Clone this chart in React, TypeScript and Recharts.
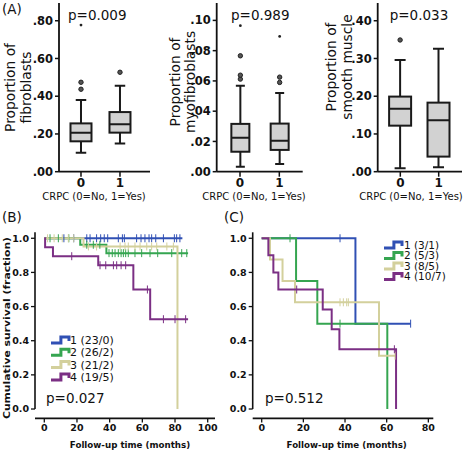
import React from 'react';
import { ComposedChart, Bar, Line, XAxis, YAxis, ReferenceLine } from 'recharts';

const FONT = '"DejaVu Sans", Verdana, sans-serif';
const INK = '#111';

// ---------------- Panel A: box plots ----------------
const CRPC = [0, 1];
const CRPC_LABEL = 'CRPC (0=No, 1=Yes)';

const FIB_LOW = [0.10, 0.15];
const FIB_Q1 = [0.161, 0.207];
const FIB_MED = [0.207, 0.251];
const FIB_Q3 = [0.256, 0.316];
const FIB_HIGH = [0.38, 0.456];
const FIB_OUT = [[0.437, 0.474], [0.527]];
const FIB_EXT = [[0.777], []];

const MYO_LOW = [0.0033, 0.0051];
const MYO_Q1 = [0.0132, 0.0144];
const MYO_MED = [0.0225, 0.0205];
const MYO_Q3 = [0.0316, 0.0318];
const MYO_HIGH = [0.0568, 0.052];
const MYO_OUT = [[0.0612, 0.0638, 0.0766], [0.059, 0.0625]];
const MYO_EXT = [[0.0965], [0.0894]];

const SMC_LOW = [0.009, 0.0115];
const SMC_Q1 = [0.122, 0.040];
const SMC_MED = [0.167, 0.136];
const SMC_Q3 = [0.199, 0.183];
const SMC_HIGH = [0.296, 0.326];
const SMC_OUT = [[0.349], []];
const SMC_EXT = [[], []];

const FIB_TICKS = [0, 0.2, 0.4, 0.6, 0.8];
const MYO_TICKS = [0, 0.02, 0.04, 0.06, 0.08, 0.1];
const SMC_TICKS = [0, 0.1, 0.2, 0.3, 0.4];

const A_PVALUES = ['p=0.009', 'p=0.989', 'p=0.033'];
const A_YLABELS = [
  ['Proportion of', 'fibroblasts'],
  ['Proportion of', 'myofibroblasts'],
  ['Proportion of', 'smooth muscle'],
];

function buildRows(low: number[], q1: number[], med: number[], q3: number[], high: number[], out: number[][], ext: number[][]) {
  return CRPC.map((x, i) => ({
    x,
    low: low[i],
    q1: q1[i],
    med: med[i],
    q3: q3[i],
    high: high[i],
    out: out[i],
    ext: ext[i],
    top: Math.max(high[i], ...out[i], ...ext[i]),
  }));
}

const A_DATA = [
  buildRows(FIB_LOW, FIB_Q1, FIB_MED, FIB_Q3, FIB_HIGH, FIB_OUT, FIB_EXT),
  buildRows(MYO_LOW, MYO_Q1, MYO_MED, MYO_Q3, MYO_HIGH, MYO_OUT, MYO_EXT),
  buildRows(SMC_LOW, SMC_Q1, SMC_MED, SMC_Q3, SMC_HIGH, SMC_OUT, SMC_EXT),
];
const A_TICKS = [FIB_TICKS, MYO_TICKS, SMC_TICKS];

const A_LAYOUT = [
  { left: 0, width: 155, yAxisW: 59, right: 5, xDom: [-0.564, 1.77], yMax: 0.894, barSize: 21, labelX: [14.5, 30.5], labelY: 87.5, pX: 68, crpcX: 94 },
  { left: 150, width: 157, yAxisW: 66.7, right: 4.3, xDom: [-0.593, 1.595], yMax: 0.1115, barSize: 18, labelX: [179.5, 195], labelY: 82, pX: 231, crpcX: 254 },
  { left: 307, width: 160, yAxisW: 70.7, right: 5, xDom: [-0.589, 1.607], yMax: 0.447, barSize: 22, labelX: [336, 351.5], labelY: 67, pX: 389.7, crpcX: 411 },
];

function BoxShape(props: any) {
  const { x, y, width, height, payload } = props;
  if (!payload || !height) return <g />;
  const k = height / payload.top;
  const py = (v: number) => y + (payload.top - v) * k;
  const cx = x + width / 2;
  const cap = width * 0.5;
  const sw = 2;
  const sc = '#1a1a1a';
  return (
    <g>
      <line x1={cx} x2={cx} y1={py(payload.high)} y2={py(payload.q3)} stroke={sc} strokeWidth={sw} />
      <line x1={cx} x2={cx} y1={py(payload.q1)} y2={py(payload.low)} stroke={sc} strokeWidth={sw} />
      <line x1={cx - cap / 2} x2={cx + cap / 2} y1={py(payload.high)} y2={py(payload.high)} stroke={sc} strokeWidth={sw} />
      <line x1={cx - cap / 2} x2={cx + cap / 2} y1={py(payload.low)} y2={py(payload.low)} stroke={sc} strokeWidth={sw} />
      <rect x={x} y={py(payload.q3)} width={width} height={py(payload.q1) - py(payload.q3)} fill="#d2d2d2" stroke={sc} strokeWidth={sw} />
      <line x1={x} x2={x + width} y1={py(payload.med)} y2={py(payload.med)} stroke={sc} strokeWidth={sw} />
      {payload.out.map((v: number, i: number) => (
        <circle key={`o${i}`} cx={cx} cy={py(v)} r={2.2} fill="#555" stroke="#222" strokeWidth={1} />
      ))}
      {payload.ext.map((v: number, i: number) => (
        <circle key={`e${i}`} cx={cx} cy={py(v)} r={1.4} fill="#222" />
      ))}
    </g>
  );
}

const fmtProp = (v: number) => v.toFixed(2).replace(/^0/, '');

// ---------------- Panels B & C: Kaplan-Meier ----------------
const B_GROUPS = ['1 (23/0)', '2 (26/2)', '3 (21/2)', '4 (19/5)'];
const C_GROUPS = ['1 (3/1)', '2 (5/3)', '3 (8/5)', '4 (10/7)'];
const GROUP_COLORS = ['#3050b4', '#35a550', '#d3d09c', '#7b2f84'];

const B1_TIME = [0, 84.5];
const B1_SURV = [1, 1];
const B1_CENS = [12, 18, 26, 28, 32, 34.5, 36.7, 38.8, 45.3, 47.8, 49, 56.5, 59.2, 61.6, 64.1, 65.7, 68.2, 72.9, 79.6, 81, 83];

const B2_TIME = [0, 22, 38, 88];
const B2_SURV = [1, 0.962, 0.913, 0.913];
const B2_CENS = [3.5, 8.6, 15, 26, 30, 34, 39.6, 41.6, 43.3, 45.3, 47, 48.4, 49.8, 51.4, 55.5, 59.6, 64.7, 69.4, 78, 84.1, 87.2];

const B3_TIME = [0, 24, 81.5];
const B3_SURV = [1, 0.952, 0];
const B3_CENS = [2, 6, 11, 14.7, 18, 27, 32, 46.4, 49.4, 51.4, 55.5, 58.6, 62.7, 65.7, 68.8, 75, 79];

const B4_TIME = [0, 0.5, 5.3, 33, 54.5, 64.8, 88];
const B4_SURV = [1, 0.947, 0.895, 0.842, 0.70, 0.526, 0.526];
const B4_CENS = [16.8, 34.1, 37.6, 42.3, 44.3, 47, 49.8, 63.1, 72.9, 80, 86.5];

const C1_TIME = [0, 45, 71.5];
const C1_SURV = [1, 0.5, 0.5];
const C1_CENS = [37.6, 71.5];

const C2_TIME = [0, 16.5, 26.7, 60.3];
const C2_SURV = [1, 0.75, 0.5, 0];
const C2_CENS = [13.6, 37.6];

const C3_TIME = [0, 4, 10, 16, 56.3, 64];
const C3_SURV = [1, 0.875, 0.75, 0.625, 0.3125, 0.3125];
const C3_CENS = [37.6, 39.2, 40.8, 41.6, 64];

const C4_TIME = [0, 3.2, 5.6, 8, 29.3, 33.6, 37.3, 64.5];
const C4_SURV = [1, 0.9, 0.8, 0.7, 0.583, 0.467, 0.35, 0];
const C4_CENS = [16.8, 63.7];

const KM_YTICKS = [0, 0.2, 0.4, 0.6, 0.8, 1.0];
const B_XTICKS = [0, 20, 40, 60, 80, 100];
const C_XTICKS = [0, 20, 40, 60, 80];

const toPts = (t: number[], s: number[]) => t.map((tt, i) => ({ t: tt, s: s[i] }));
const survAt = (t: number[], s: number[], at: number) => {
  let v = s[0];
  for (let i = 0; i < t.length; i++) if (t[i] <= at) v = s[i];
  return v;
};
const censPts = (t: number[], s: number[], c: number[]) => c.map((ct) => ({ t: ct, s: survAt(t, s, ct) }));

const B_SERIES = [
  { curve: toPts(B1_TIME, B1_SURV), cens: censPts(B1_TIME, B1_SURV, B1_CENS) },
  { curve: toPts(B2_TIME, B2_SURV), cens: censPts(B2_TIME, B2_SURV, B2_CENS) },
  { curve: toPts(B3_TIME, B3_SURV), cens: censPts(B3_TIME, B3_SURV, B3_CENS) },
  { curve: toPts(B4_TIME, B4_SURV), cens: censPts(B4_TIME, B4_SURV, B4_CENS) },
];
const C_SERIES = [
  { curve: toPts(C1_TIME, C1_SURV), cens: censPts(C1_TIME, C1_SURV, C1_CENS) },
  { curve: toPts(C2_TIME, C2_SURV), cens: censPts(C2_TIME, C2_SURV, C2_CENS) },
  { curve: toPts(C3_TIME, C3_SURV), cens: censPts(C3_TIME, C3_SURV, C3_CENS) },
  { curve: toPts(C4_TIME, C4_SURV), cens: censPts(C4_TIME, C4_SURV, C4_CENS) },
];

const KM_LAYOUT = [
  { key: 'B', left: 0, width: 225, yAxisW: 35, right: 10, xDom: [-5.69, 104.47], ticks: B_XTICKS, series: B_SERIES },
  { key: 'C', left: 225, width: 242, yAxisW: 27.7, right: 33.7, xDom: [-4.32, 82.38], ticks: C_XTICKS, series: C_SERIES },
];
const KM_YDOM = [-0.055, 1.035];

function makeCensorDot(color: string) {
  return (p: any) => (
    <line key={`c${p.index}`} x1={p.cx} x2={p.cx} y1={p.cy - 4} y2={p.cy + 4} stroke={color} strokeWidth={1} />
  );
}

function StepSwatch({ x, y, color }: { x: number; y: number; color: string }) {
  const w = 18;
  return (
    <path
      d={`M${x},${y + 3} H${x + w * 0.55} V${y - 3} H${x + w} V${y + 1}`}
      fill="none"
      stroke={color}
      strokeWidth={3}
    />
  );
}

export default function App() {
  return (
    <div style={{ position: 'absolute', left: 0, top: 0, width: 467, height: 451, background: '#fff', fontFamily: FONT }}>
      {A_LAYOUT.map((L, pi) => (
        <div key={`a${pi}`} style={{ position: 'absolute', left: L.left, top: 0 }}>
          <ComposedChart width={L.width} height={200} data={A_DATA[pi]} margin={{ top: 3, right: L.right, left: 0, bottom: 0 }}>
            <XAxis
              dataKey="x"
              type="number"
              domain={L.xDom}
              ticks={CRPC}
              interval={0}
              allowDataOverflow
              height={28.3}
              tickFormatter={(v: number) => String(v)}
              tick={{ fontSize: 12, fontWeight: 'bold', fill: INK, fontFamily: FONT }}
              tickSize={5}
              axisLine={{ stroke: INK, strokeWidth: 1.8 }}
              tickLine={{ stroke: INK, strokeWidth: 1.5 }}
            />
            <YAxis
              type="number"
              domain={[0, L.yMax]}
              ticks={A_TICKS[pi]}
              interval={0}
              allowDataOverflow
              width={L.yAxisW}
              tickFormatter={fmtProp}
              tick={{ fontSize: 11.5, fontWeight: 'bold', fill: INK, fontFamily: FONT }}
              tickSize={4}
              axisLine={{ stroke: INK, strokeWidth: 1.8 }}
              tickLine={{ stroke: INK, strokeWidth: 1.5 }}
            />
            <Bar dataKey="top" barSize={L.barSize} shape={BoxShape} isAnimationActive={false} />
          </ComposedChart>
        </div>
      ))}

      {KM_LAYOUT.map((K) => (
        <div key={K.key} style={{ position: 'absolute', left: K.left, top: 225 }}>
          <ComposedChart width={K.width} height={226} margin={{ top: 7.3, right: K.right, left: 0, bottom: 0 }}>
            <XAxis
              dataKey="t"
              type="number"
              domain={K.xDom}
              ticks={K.ticks}
              interval={0}
              allowDataOverflow
              height={32.6}
              tick={{ fontSize: 9.5, fontWeight: 'bold', fill: INK, fontFamily: FONT }}
              tickSize={4}
              axisLine={{ stroke: INK, strokeWidth: 1.6 }}
              tickLine={{ stroke: INK, strokeWidth: 1.3 }}
            />
            <YAxis
              dataKey="s"
              type="number"
              domain={KM_YDOM}
              ticks={KM_YTICKS}
              interval={0}
              allowDataOverflow
              width={K.yAxisW}
              tickFormatter={(v: number) => v.toFixed(1)}
              tick={{ fontSize: 9.5, fontWeight: 'bold', fill: INK, fontFamily: FONT }}
              tickSize={4}
              axisLine={false}
              tickLine={{ stroke: INK, strokeWidth: 1.3 }}
            />
            <ReferenceLine
              segment={[{ x: K.xDom[0], y: 0 }, { x: K.xDom[0], y: KM_YDOM[1] }]}
              stroke={INK}
              strokeWidth={1.6}
              ifOverflow="visible"
            />
            {K.series.map((s, i) => (
              <Line
                key={`l${i}`}
                data={s.curve}
                dataKey="s"
                type="stepAfter"
                stroke={GROUP_COLORS[i]}
                strokeWidth={2}
                dot={false}
                activeDot={false}
                isAnimationActive={false}
              />
            ))}
            {K.series.map((s, i) => (
              <Line
                key={`c${i}`}
                data={s.cens}
                dataKey="s"
                type="linear"
                stroke="none"
                dot={makeCensorDot(GROUP_COLORS[i])}
                activeDot={false}
                isAnimationActive={false}
              />
            ))}
          </ComposedChart>
        </div>
      ))}

      <svg width={467} height={451} style={{ position: 'absolute', left: 0, top: 0, pointerEvents: 'none' }} fontFamily={FONT}>
        <text x={2} y={14} fontSize={13.5} fill={INK}>(A)</text>
        <text x={2} y={222} fontSize={13.5} fill={INK}>(B)</text>
        <text x={224} y={222} fontSize={13.5} fill={INK}>(C)</text>
        {A_LAYOUT.map((L, pi) => (
          <g key={`at${pi}`}>
            <text x={L.pX} y={19.5} fontSize={13.5} fill={INK}>{A_PVALUES[pi]}</text>
            {A_YLABELS[pi].map((line, li) => (
              <text
                key={li}
                transform={`translate(${L.labelX[li]},${L.labelY}) rotate(-90)`}
                textAnchor="middle"
                fontSize={13.8}
                fill={INK}
              >
                {line}
              </text>
            ))}
            <text x={L.crpcX} y={199.5} textAnchor="middle" fontSize={10} fill={INK}>{CRPC_LABEL}</text>
          </g>
        ))}
        <text transform="translate(9.5,328) rotate(-90)" textAnchor="middle" fontSize={9.5} fontWeight="bold" fill={INK} textLength={182} lengthAdjust="spacingAndGlyphs">
          Cumulative survival (fraction)
        </text>
        <text x={130} y={448} textAnchor="middle" fontSize={8.7} fontWeight="bold" fill={INK}>Follow-up time (months)</text>
        <text x={346.7} y={448} textAnchor="middle" fontSize={8.7} fontWeight="bold" fill={INK}>Follow-up time (months)</text>
        <text x={46} y={402.7} fontSize={13.5} fill={INK}>p=0.027</text>
        <text x={265} y={402.7} fontSize={13.5} fill={INK}>p=0.512</text>
        {B_GROUPS.map((g, i) => (
          <g key={`bl${i}`}>
            <StepSwatch x={51} y={340 + i * 12.3} color={GROUP_COLORS[i]} />
            <text x={70} y={340 + i * 12.3 + 4} fontSize={11} fill={INK}>{g}</text>
          </g>
        ))}
        {C_GROUPS.map((g, i) => (
          <g key={`cl${i}`}>
            <StepSwatch x={384} y={245 + i * 10.5} color={GROUP_COLORS[i]} />
            <text x={404} y={245 + i * 10.5 + 3.8} fontSize={10.5} fill={INK}>{g}</text>
          </g>
        ))}
      </svg>
    </div>
  );
}
